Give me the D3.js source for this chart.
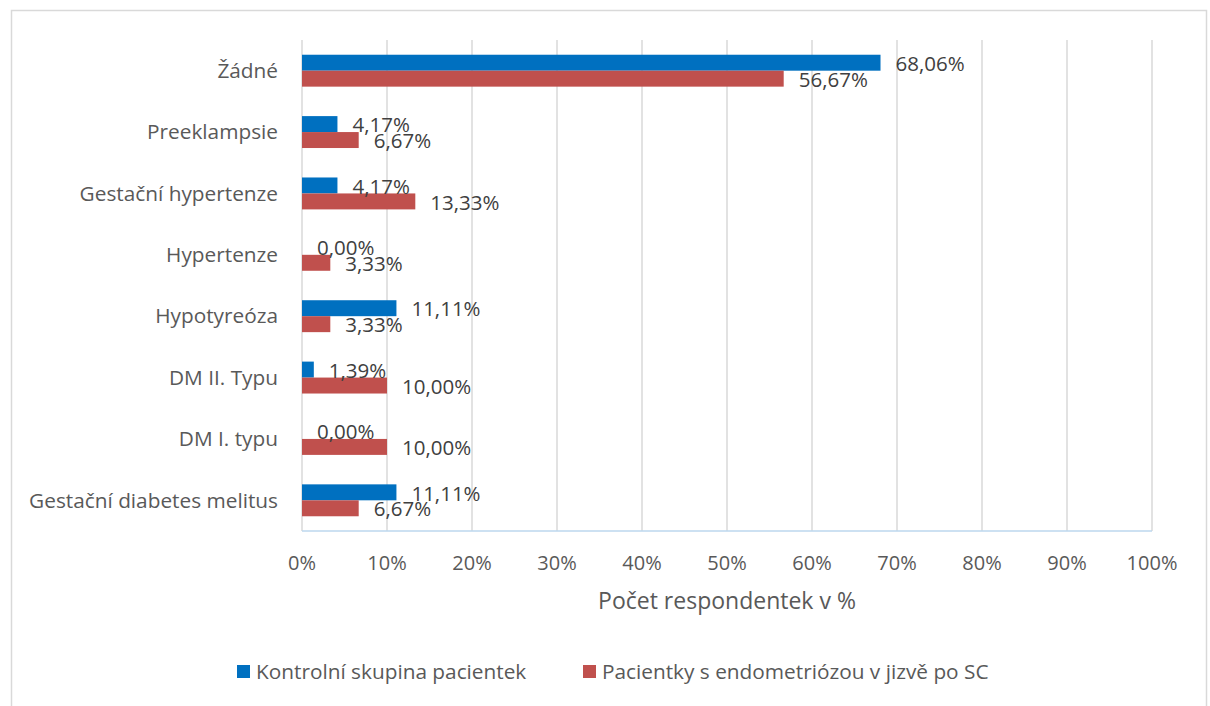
<!DOCTYPE html>
<html><head><meta charset="utf-8">
<script src="https://cdn.jsdelivr.net/npm/d3@7"></script>
<style>
body{margin:0;background:#fff;}
text{font-family:"Open Sans",sans-serif;}
</style></head>
<body><svg id="c" width="1210" height="706"></svg>
<script>
const categories = ["Žádné","Preeklampsie","Gestační hypertenze","Hypertenze","Hypotyreóza","DM II. Typu","DM I. typu","Gestační diabetes melitus"];
const seriesNames = ["Kontrolní skupina pacientek","Pacientky s endometriózou v jizvě po SC"];
const kontrolni = [68.06,4.17,4.17,0.00,11.11,1.39,0.00,11.11];
const pacientky = [56.67,6.67,13.33,3.33,3.33,10.00,10.00,6.67];
const ticks = [0,10,20,30,40,50,60,70,80,90,100];
const colors = ["#0070C0","#C0504D"];

const svg = d3.select("#c");
svg.append("rect").attr("x",11.5).attr("y",10.5).attr("width",1195).attr("height",720)
  .attr("fill","#fff").attr("stroke","#d9d9d9").attr("stroke-width",1.5);

const L=302,R=1152,T=40,B=531;
const x = d3.scaleLinear().domain([0,100]).range([L,R]);
const y = d3.scaleBand().domain(categories).range([T,B]).paddingInner(0.48).paddingOuter(0.24);
const ySub = d3.scaleBand().domain([0,1]).range([0,y.bandwidth()]);

svg.append("g").selectAll("line").data(ticks).join("line")
  .attr("x1",d=>x(d)).attr("x2",d=>x(d)).attr("y1",T).attr("y2",B)
  .attr("stroke","#d9d9d9").attr("stroke-width",1.5);

const fmt = v => v.toFixed(2).replace(".",",")+"%";
const series=[kontrolni,pacientky];
series.forEach((vals,si)=>{
  svg.append("g").selectAll("rect").data(vals).join("rect")
    .attr("x",x(0)).attr("y",(d,i)=>y(categories[i])+ySub(si))
    .attr("width",d=>x(d)-x(0)).attr("height",ySub.bandwidth())
    .attr("fill",colors[si]);
});
series.forEach((vals,si)=>{
  svg.append("g").selectAll("text").data(vals).join("text")
    .attr("x",d=>x(d)+15).attr("y",(d,i)=>y(categories[i])+ySub(si)+ySub.bandwidth()/2+1)
    .attr("dy","0.35em").attr("font-size",20.5).attr("fill","#404040")
    .text(d=>fmt(d));
});

svg.append("line").attr("x1",L).attr("x2",R).attr("y1",B).attr("y2",B)
  .attr("stroke","#BDD7EE").attr("stroke-width",1.5);

svg.append("g").selectAll("text").data(categories).join("text")
  .attr("x",L-24).attr("y",d=>y(d)+y.bandwidth()/2).attr("dy","0.35em")
  .attr("text-anchor","end").attr("font-size",20.8).attr("fill","#595959").text(d=>d);

svg.append("g").selectAll("text").data(ticks).join("text")
  .attr("x",d=>x(d)).attr("y",563).attr("dy","0.35em").attr("text-anchor","middle")
  .attr("font-size",20).attr("fill","#595959").text(d=>d+"%");

svg.append("text").attr("x",(L+R)/2).attr("y",601).attr("dy","0.35em").attr("text-anchor","middle")
  .attr("font-size",23).attr("fill","#595959").text("Počet respondentek v %");

const leg=[{x:237,tx:256},{x:583,tx:602}];
seriesNames.forEach((n,i)=>{
  svg.append("rect").attr("x",leg[i].x).attr("y",665).attr("width",13).attr("height",13).attr("fill",colors[i]);
  svg.append("text").attr("x",leg[i].tx).attr("y",672).attr("dy","0.35em").attr("font-size",20.8)
    .attr("fill","#595959").text(n);
});
</script></body></html>
